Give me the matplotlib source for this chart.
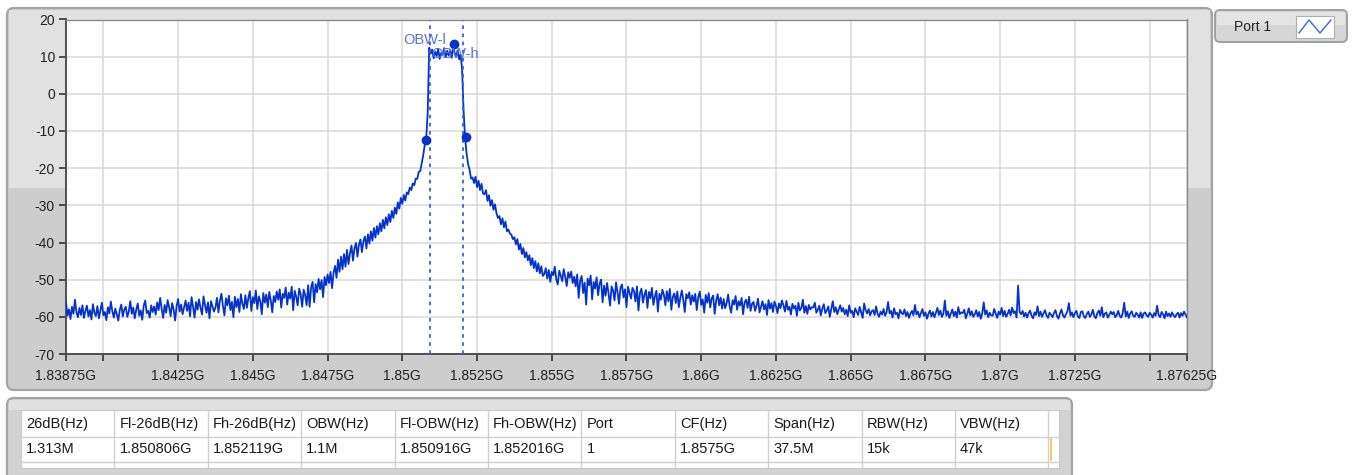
import numpy as np
import matplotlib
matplotlib.use('Agg')
import matplotlib.pyplot as plt
from matplotlib.patches import FancyBboxPatch, Rectangle

plt.rcParams['font.family'] = ['Liberation Sans', 'DejaVu Sans']

''' spectrum trace, read off the screenshot (dBm, one value per 0.05 MHz, 20 per row = 1 MHz) '''

freq_start = 1.83875   # GHz
freq_step = 0.00005    # GHz
levels = [
    -56.1, -59.7, -58.0, -60.6, -57.3, -59.2, -55.4, -58.8, -60.1, -57.6, -59.5, -56.9, -60.3, -58.4, -57.0, -59.9, -58.2, -60.7, -56.6, -58.9,
    -59.8, -57.1, -60.4, -58.3, -56.2, -59.6, -58.7, -60.9, -57.4, -59.1, -55.9, -58.5, -60.2, -57.8, -59.4, -61.0, -58.1, -56.7, -59.9, -58.0,
    -57.3, -60.0, -58.6, -55.8, -59.2, -57.5, -60.4, -58.1, -56.4, -59.7, -58.3, -60.8, -57.0, -55.6, -59.0, -58.4, -60.2, -56.9, -58.7, -57.2,
    -59.4, -56.1, -58.2, -54.9, -57.8, -60.3, -56.8, -58.9, -55.5, -57.4, -59.8, -56.3, -58.0, -61.0, -57.1, -55.2, -58.6, -56.7, -59.3, -57.5,
    -55.6, -58.4, -56.2, -59.9, -54.7, -57.3, -60.2, -56.0, -58.1, -55.3, -57.6, -59.4, -54.5, -56.8, -58.9, -56.1, -60.4, -55.8, -57.2, -58.6,
    -57.5, -54.9, -58.8, -55.6, -53.8, -57.1, -59.6, -55.0, -56.9, -54.3, -58.2, -56.0, -60.1, -54.6, -57.4, -55.2, -58.7, -53.9, -56.5, -57.9,
    -54.2, -57.6, -55.0, -53.1, -58.4, -54.7, -56.3, -52.9, -57.9, -54.5, -55.8, -59.3, -53.6, -56.2, -54.0, -57.4, -53.3, -55.6, -58.8, -54.4,
    -56.0, -53.2, -55.4, -52.6, -57.5, -53.8, -54.9, -52.1, -56.7, -53.5, -55.1, -51.9, -58.2, -53.0, -54.6, -56.9, -52.4, -53.9, -57.3, -52.7,
    -54.1, -56.9, -51.5, -57.3, -52.0, -50.6, -56.1, -51.2, -53.4, -49.8, -52.6, -50.1, -54.7, -49.3, -51.5, -48.6, -50.9, -47.9, -52.3, -48.2,
    -46.3, -49.5, -44.6, -47.9, -43.8, -47.2, -43.1, -46.5, -42.0, -45.8, -42.9, -40.8, -44.9, -41.6, -40.1, -43.8, -40.5, -39.2, -42.6, -39.6,
    -38.4, -41.6, -37.8, -40.3, -37.0, -39.5, -36.1, -38.7, -35.6, -37.8, -34.8, -37.0, -33.9, -36.2, -33.2, -35.3, -32.4, -34.5, -31.5, -33.4,
    -30.6, -32.3, -29.2, -30.9, -28.0, -29.6, -27.2, -28.7, -26.5, -27.0, -25.2, -25.9, -24.1, -24.6, -22.8, -22.9, -21.0, -20.8, -18.6, -16.5,
    -13.8, -12.0, -5.0, 12.4, 10.8, 11.9, 9.6, 11.3, 10.2, 12.1, 9.4, 11.0, 10.5, 12.3, 9.9, 11.6, 10.3, 11.8, 9.7, 12.4,
    11.1, 10.0, 11.7, 9.3, 10.6, 6.5, -4.5, -11.8, -16.0, -18.9, -20.4, -22.8, -22.5, -24.0, -22.3, -25.1, -23.4, -25.9, -24.2, -26.8,
    -27.0, -25.9, -28.8, -27.3, -30.1, -28.6, -31.2, -29.7, -32.1, -33.4, -32.9, -35.1, -33.5, -35.9, -34.4, -37.0, -36.5, -37.6, -37.9, -39.1,
    -38.6, -40.5, -39.1, -41.9, -40.4, -43.1, -41.5, -44.0, -42.6, -44.8, -43.4, -46.1, -44.2, -46.9, -45.0, -47.8, -45.6, -48.3, -46.4, -49.0,
    -48.5, -46.9, -49.7, -47.4, -50.6, -47.9, -48.8, -46.5, -49.9, -51.3, -47.6, -48.9, -50.4, -47.2, -49.3, -51.7, -48.0, -49.5, -47.8, -50.9,
    -49.2, -51.8, -48.6, -54.9, -50.3, -49.0, -53.6, -50.8, -56.7, -49.7, -51.5, -48.9, -55.3, -50.6, -52.4, -49.4, -54.2, -51.1, -50.0, -56.1,
    -51.6, -54.3, -50.9, -53.7, -57.0, -51.8, -52.9, -55.6, -50.7, -53.4, -56.5, -52.1, -51.3, -54.8, -52.6, -57.4, -51.9, -53.5, -55.1, -52.2,
    -53.1, -55.9, -51.8, -58.3, -53.6, -52.4, -56.2, -54.0, -52.8, -57.6, -53.3, -55.0, -52.2, -56.8, -54.5, -53.0, -58.6, -53.8, -55.4, -52.7,
    -54.0, -56.9, -53.1, -55.8, -52.5, -58.1, -54.6, -53.7, -56.3, -53.2, -57.4, -54.9, -52.9, -55.5, -58.7, -53.9, -55.0, -53.4, -56.7, -54.2,
    -55.9, -53.8, -58.2, -54.7, -53.2, -56.8, -55.3, -58.9, -54.1, -56.2, -53.6, -57.5, -55.0, -54.3, -59.2, -55.6, -53.9, -56.9, -54.8, -57.8,
    -55.2, -57.7, -56.3, -54.0, -57.2, -58.9, -55.5, -56.7, -54.4, -58.1, -55.8, -57.0, -54.9, -59.3, -56.1, -55.4, -57.6, -54.6, -58.4, -56.5,
    -56.0, -58.4, -57.0, -55.1, -58.8, -57.3, -55.8, -58.0, -56.6, -59.5, -55.5, -57.8, -56.3, -58.7, -55.9, -57.1, -59.0, -56.4, -57.7, -55.6,
    -56.9, -58.6, -55.7, -58.1, -57.3, -59.4, -56.5, -57.8, -57.0, -59.7, -56.2, -58.3, -57.6, -55.4, -58.9, -57.1, -59.2, -56.8, -58.0, -57.4,
    -57.5, -56.2, -58.9, -58.1, -57.0, -59.6, -57.8, -56.6, -59.0, -58.3, -57.2, -60.0, -57.9, -55.8, -58.7, -57.4, -59.3, -58.0, -56.9, -58.6,
    -57.6, -59.3, -58.1, -59.8, -56.9, -58.9, -58.4, -60.1, -57.7, -58.6, -59.5, -57.3, -58.8, -60.3, -56.4, -58.2, -59.1, -57.9, -59.6, -58.5,
    -58.2, -59.5, -57.2, -59.2, -60.0, -58.6, -59.4, -57.9, -59.7, -58.8, -56.0, -59.1, -58.4, -60.2, -57.7, -59.3, -58.9, -60.4, -58.1, -59.0,
    -59.3, -58.0, -59.8, -58.7, -60.3, -59.1, -58.4, -59.6, -56.8, -59.4, -58.6, -60.1, -59.0, -57.9, -59.7, -58.8, -60.5, -59.2, -58.3, -59.9,
    -58.7, -60.1, -58.9, -57.6, -59.5, -58.3, -60.0, -59.2, -55.6, -59.7, -58.5, -60.3, -59.1, -58.0, -59.8, -58.6, -60.2, -57.4, -59.3, -58.8,
    -59.0, -58.1, -60.4, -59.2, -57.7, -59.6, -58.5, -60.0, -59.3, -58.2, -59.9, -58.7, -60.5, -59.1, -56.1, -59.4, -58.3, -60.1, -58.9, -59.6,
    -59.7, -57.9, -59.1, -60.3, -58.6, -59.4, -57.6, -59.8, -58.4, -60.0, -59.2, -58.1, -59.6, -57.5, -59.0, -58.5, -60.2, -51.6, -58.7, -59.3,
    -58.4, -59.9, -58.9, -60.2, -59.0, -58.3, -59.7, -60.4, -58.8, -59.5, -57.2, -59.8, -58.6, -60.0, -59.1, -58.2, -59.6, -60.3, -58.9, -59.4,
    -60.1, -59.0, -58.2, -59.8, -60.5, -59.1, -58.0, -59.6, -60.2, -59.3, -58.5, -56.3, -59.7, -58.8, -60.1, -59.0, -58.4, -59.9, -60.3, -58.7,
    -58.5, -59.9, -60.3, -59.2, -58.6, -60.0, -59.4, -58.1, -59.8, -60.4, -59.0, -58.3, -59.7, -57.4, -60.1, -59.2, -58.8, -60.2, -59.5, -58.6,
    -59.3, -58.7, -60.1, -59.5, -58.4, -59.8, -60.2, -59.0, -56.2, -59.9, -58.6, -60.3, -59.1, -58.5, -59.7, -60.0, -58.9, -59.4, -60.2, -58.8,
    -60.3, -59.1, -58.8, -59.6, -60.0, -58.9, -59.4, -60.2, -59.0, -59.7, -57.0, -59.5, -60.1, -58.7, -59.3, -60.4, -58.6, -59.8, -59.1, -60.0,
    -58.8, -59.6, -60.1, -59.3, -58.9, -60.2, -59.0, -59.7, -58.6, -59.4, -60.1,
]

# marker points (GHz, dB)
pt_26db_f = [1.850806, 1.852119]
pt_26db_v = [-12.4, -11.5]
peak_f = 1.851727
peak_v = 13.3
obw_l = 1.850916
obw_h = 1.852016

xticks = [1.83875, 1.84, 1.8425, 1.845, 1.8475, 1.85, 1.8525, 1.855, 1.8575,
          1.86, 1.8625, 1.865, 1.8675, 1.87, 1.8725, 1.875, 1.87625]
xtick_hidden = [1.84, 1.875]
yticks = [20, 10, 0, -10, -20, -30, -40, -50, -60, -70]

headers = ['26dB(Hz)', 'Fl-26dB(Hz)', 'Fh-26dB(Hz)', 'OBW(Hz)', 'Fl-OBW(Hz)', 'Fh-OBW(Hz)',
           'Port', 'CF(Hz)', 'Span(Hz)', 'RBW(Hz)', 'VBW(Hz)']
values = ['1.313M', '1.850806G', '1.852119G', '1.1M', '1.850916G', '1.852016G',
          '1', '1.8575G', '37.5M', '15k', '47k']

W, H = 1353, 475

def rect(x0, y0, x1, y1):
    return [x0 / W, 1 - y1 / H, (x1 - x0) / W, (y1 - y0) / H]

fig = plt.figure(figsize=(W / 100, H / 100), dpi=100)
fig.patch.set_facecolor('white')

''' background panels, drawn in pixel units '''
bg = fig.add_axes([0, 0, 1, 1])
bg.set_xlim(0, W)
bg.set_ylim(H, 0)
bg.axis('off')

bg.add_patch(FancyBboxPatch((7, 8), 1205, 382, boxstyle='round,pad=0,rounding_size=7',
                            fc='#cdcdcd', ec='#a4a4a4', lw=1.6))
bg.add_patch(Rectangle((9, 10), 1201, 178, fc='#e1e1e1', ec='none'))

# legend box
bg.add_patch(FancyBboxPatch((1215, 10), 132, 32, boxstyle='round,pad=0,rounding_size=5',
                            fc='#d6d6d6', ec='#a0a0a0', lw=1.4))
bg.add_patch(Rectangle((1217, 12), 128, 13, fc='#e4e4e4', ec='none'))
bg.text(1234, 27, 'Port 1', fontsize=10, color='#222222', va='center', ha='left')
bg.add_patch(Rectangle((1296, 16), 38, 22, fc='white', ec='#b0b0b0', lw=0.8))
bg.plot([1299, 1309, 1320, 1331], [33, 20, 33, 20], color='#3a66e0', lw=1.0)

# table panel
bg.add_patch(FancyBboxPatch((7, 398), 1065, 95, boxstyle='round,pad=0,rounding_size=7',
                            fc='#d2d2d2', ec='#a4a4a4', lw=1.6))
bg.add_patch(Rectangle((9, 400), 1061, 10, fc='#e0e0e0', ec='none'))
bg.add_patch(Rectangle((21, 410), 1038, 58, fc='white', ec='#c8c8c8', lw=0.8))
col_w = 93.4
for i, (hd, val) in enumerate(zip(headers, values)):
    x0 = 21 + i * col_w
    bg.plot([x0, x0], [410, 468], color='#d0d0d0', lw=1)
    bg.text(x0 + 5, 424, hd, fontsize=10.5, color='#1a1a1a', va='center', ha='left')
    bg.text(x0 + 5, 449, val, fontsize=10.5, color='#1a1a1a', va='center', ha='left')
bg.plot([21 + 11 * col_w] * 2, [410, 468], color='#d0d0d0', lw=1)
bg.plot([21, 1059], [437, 437], color='#d0d0d0', lw=1)
bg.plot([21, 1059], [462, 462], color='#d0d0d0', lw=1)
bg.plot([1051, 1051], [439, 460], color='#f0c040', lw=1.2)

''' spectrum plot '''
ax = fig.add_axes(rect(66, 19.5, 1187, 354))
freqs = freq_start + freq_step * np.arange(len(levels))

ax.set_facecolor('white')
ax.set_xlim(1.83875, 1.87625)
ax.set_ylim(-70, 20)
ax.set_xticks(xticks)
ax.set_xticklabels(['' if t in xtick_hidden else f'{t:g}G' for t in xticks])
ax.set_yticks(yticks)
ax.set_yticklabels([str(t) for t in yticks])
ax.tick_params(axis='both', labelsize=10, colors='#333333', labelcolor='#222222',
               length=5, width=1.2, direction='out')
ax.tick_params(axis='x', pad=6)
ax.tick_params(axis='y', pad=3)
ax.grid(True, color='#dcdcdc', lw=1.2)
ax.set_axisbelow(True)
for s in ax.spines.values():
    s.set_color('#8a8a8a')
    s.set_linewidth(1)
ax.spines['left'].set_color('#505050')
ax.spines['bottom'].set_color('#505050')
ax.spines['left'].set_linewidth(1.4)
ax.spines['bottom'].set_linewidth(1.4)

ax.plot(freqs, levels, color='#0433cc', lw=1.3, zorder=3)

ax.axvline(obw_l, color='#3a5ce0', lw=1.3, ls=(0, (2, 2.5)), zorder=4)
ax.axvline(obw_h, color='#3a5ce0', lw=1.3, ls=(0, (2, 2.5)), zorder=4)
ax.plot(pt_26db_f, pt_26db_v, 'o', color='#0433cc', ms=6, zorder=5)
ax.plot([peak_f], [peak_v], 'o', color='#0433cc', ms=6, zorder=5)

ax.text(obw_l - 0.00016, 14.4, 'OBW-l', fontsize=10.5, color='#5a70e0',
        ha='center', va='center', zorder=6)
ax.text(obw_h - 0.00025, 10.6, 'OBW-h', fontsize=10.5, color='#5a70e0',
        ha='center', va='center', zorder=6)

plt.savefig('out.png', dpi=100)
